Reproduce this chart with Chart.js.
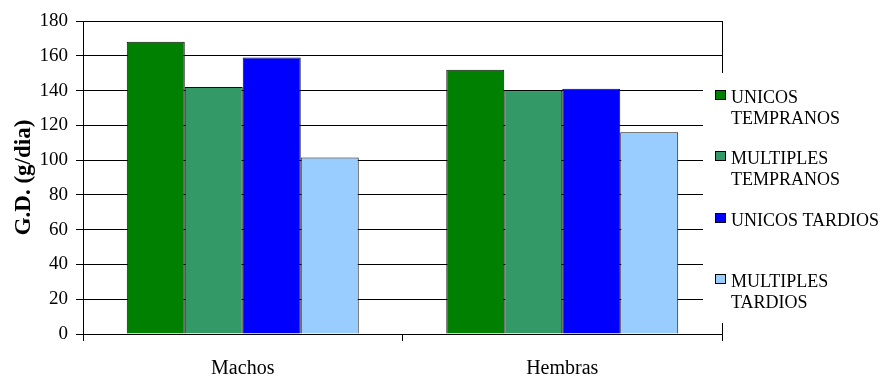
<!DOCTYPE html>
<html>
<head>
<meta charset="utf-8">
<title>G.D. por sexo</title>
<script src="https://cdn.jsdelivr.net/npm/chart.js@4"></script>
<style>
  body { margin: 0; background: #fff; }
  #wrap { width: 886px; height: 377px; }
</style>
</head>
<body>
<div id="wrap"><canvas id="gdChart"></canvas></div>
<script>
const categories = ["Machos", "Hembras"];

const seriesNames = ["UNICOS TEMPRANOS", "MULTIPLES TEMPRANOS", "UNICOS TARDIOS", "MULTIPLES TARDIOS"];
const unicosTempranos = [168, 152];
const multiplesTempranos = [142, 140];
const unicosTardios = [159, 141];
const multiplesTardios = [101.5, 116];

const seriesColors = ["#008000", "#339966", "#0000ff", "#99ccff"];

const yTicks = [0, 20, 40, 60, 80, 100, 120, 140, 160, 180];

const serif = "'Liberation Serif', 'Times New Roman', serif";

// box around the plot (top line comes from the 180 gridline)
const frame = {
    id: "frame",
    afterDatasetsDraw(chart) {
        const { ctx, chartArea } = chart;
        ctx.save();
        ctx.strokeStyle = "#000";
        ctx.lineWidth = 1;
        ctx.beginPath();
        ctx.moveTo(Math.round(chartArea.right) + 0.5, chartArea.top);
        ctx.lineTo(Math.round(chartArea.right) + 0.5, chartArea.bottom);
        ctx.stroke();
        ctx.restore();
    }
};

// legend sits on a white box over the right edge of the plot
const sideLegend = {
    id: "sideLegend",
    afterDraw(chart) {
        const { ctx } = chart;
        const boxLeft = 703, boxTop = 73, boxBottom = 323;
        ctx.save();
        ctx.fillStyle = "#fff";
        ctx.fillRect(boxLeft, boxTop, chart.width - boxLeft, boxBottom - boxTop);

        ctx.font = "18px " + serif;
        ctx.textBaseline = "alphabetic";
        ctx.textAlign = "left";
        const maxW = 155;

        chart.data.datasets.forEach((ds, i) => {
            const cy = 95 + i * 61.3;
            ctx.fillStyle = ds.backgroundColor;
            ctx.fillRect(715, Math.round(cy - 5), 11, 10);
            ctx.strokeStyle = "#000";
            ctx.lineWidth = 1;
            ctx.strokeRect(715.5, Math.round(cy - 5) + 0.5, 10, 9);

            // simple word wrap
            const words = ds.label.split(" ");
            const lines = [];
            let line = "";
            words.forEach(w => {
                const test = line ? line + " " + w : w;
                if (line && ctx.measureText(test).width > maxW) {
                    lines.push(line);
                    line = w;
                } else {
                    line = test;
                }
            });
            lines.push(line);

            ctx.fillStyle = "#000";
            lines.forEach((t, k) => {
                ctx.fillText(t, 731, cy + 8 + k * 21);
            });
        });
        ctx.restore();
    }
};

const seriesValues = [unicosTempranos, multiplesTempranos, unicosTardios, multiplesTardios];

new Chart(document.getElementById("gdChart"), {
    type: "bar",
    data: {
        labels: categories,
        datasets: seriesNames.map((name, i) => ({
            label: name,
            data: seriesValues[i],
            backgroundColor: seriesColors[i],
            borderColor: "#111",
            borderWidth: 1,
            barPercentage: 1,
            categoryPercentage: 0.726
        }))
    },
    options: {
        responsive: true,
        maintainAspectRatio: false,
        animation: false,
        layout: {
            padding: { top: 21, right: 164, left: 0, bottom: 0 }
        },
        plugins: {
            legend: { display: false },
            tooltip: { enabled: false }
        },
        scales: {
            x: {
                grid: {
                    display: true,
                    drawOnChartArea: false,
                    offset: true,
                    tickLength: 7,
                    color: "#000"
                },
                border: { display: true, color: "#000", width: 1 },
                ticks: {
                    color: "#000",
                    padding: 16,
                    font: { family: serif, size: 20 }
                },
                afterFit(scale) { scale.height = 43; }
            },
            y: {
                min: 0,
                max: 180,
                afterBuildTicks(scale) {
                    scale.ticks = yTicks.map(v => ({ value: v }));
                },
                grid: {
                    color: "#000",
                    lineWidth: 1,
                    tickLength: 7
                },
                border: { display: true, color: "#000", width: 1 },
                ticks: {
                    color: "#000",
                    padding: 8,
                    font: { family: serif, size: 19 }
                },
                title: {
                    display: true,
                    text: "G.D. (g/dia)",
                    color: "#000",
                    padding: { top: 10, bottom: 0 },
                    font: { family: serif, size: 23, weight: "bold" }
                },
                afterFit(scale) { scale.width = 83; }
            }
        }
    },
    plugins: [frame, sideLegend]
});
</script>
</body>
</html>
